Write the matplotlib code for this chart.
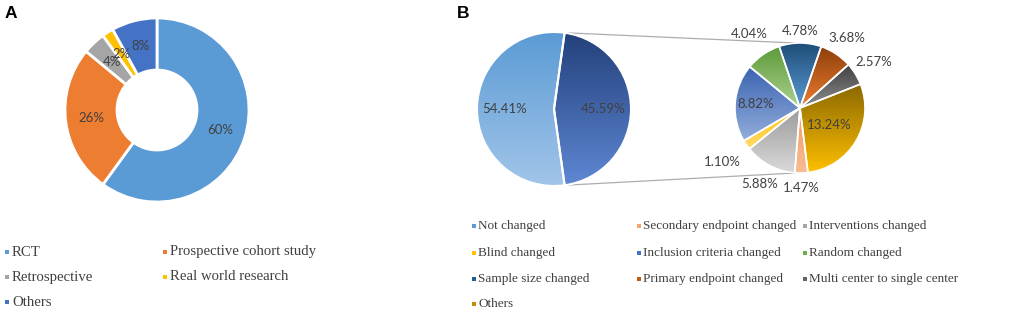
import numpy as np
import matplotlib.pyplot as plt
from matplotlib.patches import Rectangle
from matplotlib.colors import to_rgb

# ---- panel A: study design ----
design_labels = ['RCT', 'Prospective cohort study', 'Retrospective',
                 'Real world research', 'Others']
design_pct = [60, 26, 4, 2, 8]
design_colors = ['#5B9BD5', '#ED7D31', '#A5A5A5', '#FFC000', '#4472C4']

# ---- panel B: changed or not, and what changed ----
main_labels = ['Not changed', 'Changed']
main_pct = [54.41, 45.59]
main_grad = [('#5B9BD5', '#A2C5E9'), ('#23407A', '#5E87D3')]

change_labels = ['Secondary endpoint changed', 'Interventions changed', 'Blind changed',
                 'Inclusion criteria changed', 'Random changed', 'Sample size changed',
                 'Primary endpoint changed', 'Multi center to single center', 'Others']
change_pct = [1.47, 5.88, 1.10, 8.82, 4.04, 4.78, 3.68, 2.57, 13.24]
change_grad = [('#F19B62', '#F8BC93'), ('#9B9B9B', '#DADADA'), ('#FFC000', '#FFDB6E'),
               ('#3A63B0', '#93AEDD'), ('#5E9A3A', '#AAD28F'), ('#1F4E79', '#5B9BD5'),
               ('#8E3F0B', '#ED7D31'), ('#404040', '#8F8F8F'), ('#8A6800', '#FFC000')]
change_legend_colors = ['#F4A470', '#A5A5A5', '#FFC000', '#4472C4', '#70AD47',
                        '#255E91', '#C55A11', '#636363', '#BF9000']
label_dist = [1.23, 1.32, 1.45, 0.69, 1.38, 1.18, 1.30, 1.34, 0.52]

W, H = 1021, 312
txt = '#404040'
num_font = 'Lato'
leg_font = 'Liberation Serif'


def fill_gradient(ax, wedge, top, bottom):
    (x0, y0), (x1, y1) = wedge.get_path().get_extents().get_points()
    c0, c1 = np.array(to_rgb(bottom)), np.array(to_rgb(top))
    t = np.linspace(0, 1, 128)[:, None, None]
    grad = c0 + (c1 - c0) * t
    im = ax.imshow(grad, extent=[x0, x1, y0, y1], origin='lower', aspect='auto',
                   interpolation='bilinear', zorder=0.5)
    im.set_clip_path(wedge)
    wedge.set_facecolor('none')


def draw_legend(ax, labels, colors, xs, ys, dx=7, size=9.5):
    n = len(xs)
    for i, (lab, col) in enumerate(zip(labels, colors)):
        r, c = divmod(i, n)
        x, y = xs[c], H - ys[r]
        ax.add_patch(Rectangle((x, y - 2), 4, 4, color=col, lw=0))
        ax.text(x + dx, y, lab, fontsize=size, family=leg_font, color=txt,
                va='center', ha='left')


fig = plt.figure(figsize=(W / 100, H / 100), dpi=100)
ax = fig.add_axes([0, 0, 1, 1])

# donut A
cA, rA = (157, H - 110), 92
ax.pie(design_pct, colors=design_colors, startangle=90, counterclock=False,
       center=cA, radius=rA, autopct=lambda p: f'{p:.0f}%', pctdistance=0.72,
       wedgeprops=dict(width=52, edgecolor='white', linewidth=2),
       textprops=dict(color=txt, fontsize=9.5, family=num_font))

# main pie B
cB, rB = (554, H - 109), 77
wedges, _, _ = ax.pie(main_pct, startangle=-main_pct[1] / 100 * 360 / 2,
                      counterclock=False, center=cB, radius=rB,
                      autopct='%.2f%%', pctdistance=0.64,
                      wedgeprops=dict(edgecolor='white', linewidth=1.5),
                      textprops=dict(color=txt, fontsize=9.5, family=num_font))
for w, (top, bot) in zip(wedges, main_grad):
    fill_gradient(ax, w, top, bot)

# sub pie B
cS, rS = (800, H - 108), 65
sub, _ = ax.pie(change_pct, startangle=-83, counterclock=False, center=cS, radius=rS,
                explode=[0.035] * len(change_pct),
                wedgeprops=dict(edgecolor='white', linewidth=1.2))
for w, (top, bot), v, d in zip(sub, change_grad, change_pct, label_dist):
    fill_gradient(ax, w, top, bot)
    ang = np.deg2rad((w.theta1 + w.theta2) / 2)
    ax.text(cS[0] + d * rS * np.cos(ang), cS[1] + d * rS * np.sin(ang), f'{v:.2f}%',
            color=txt, fontsize=9.5, family=num_font, ha='center', va='center')

# connector lines
dark = wedges[1]
pts = [(cB[0] + rB * np.cos(np.deg2rad(a)), cB[1] + rB * np.sin(np.deg2rad(a)))
       for a in (dark.theta1, dark.theta2)]
pts.sort(key=lambda p: p[1])
ax.plot([pts[1][0], cS[0] - 5], [pts[1][1], cS[1] + rS], color='#ADADAD', lw=0.9, zorder=0.3)
ax.plot([pts[0][0], cS[0] - 5], [pts[0][1], cS[1] - rS], color='#ADADAD', lw=0.9, zorder=0.3)

# legends
draw_legend(ax, design_labels, design_colors, [5, 163], [252, 277, 302], size=10.6)
draw_legend(ax, main_labels[:1] + change_labels,
            ['#5B9BD5'] + change_legend_colors,
            [472, 637, 803], [226, 253, 279, 304], dx=6)

# panel letters
ax.text(5, H - 13, 'A', fontsize=12.5, fontweight='bold', family='Liberation Sans',
        va='center', ha='left')
ax.text(457, H - 13, 'B', fontsize=12.5, fontweight='bold', family='Liberation Sans',
        va='center', ha='left')

ax.set_xlim(0, W)
ax.set_ylim(0, H)
ax.set_aspect('equal')
ax.axis('off')

fig.savefig('out.png', dpi=100)
